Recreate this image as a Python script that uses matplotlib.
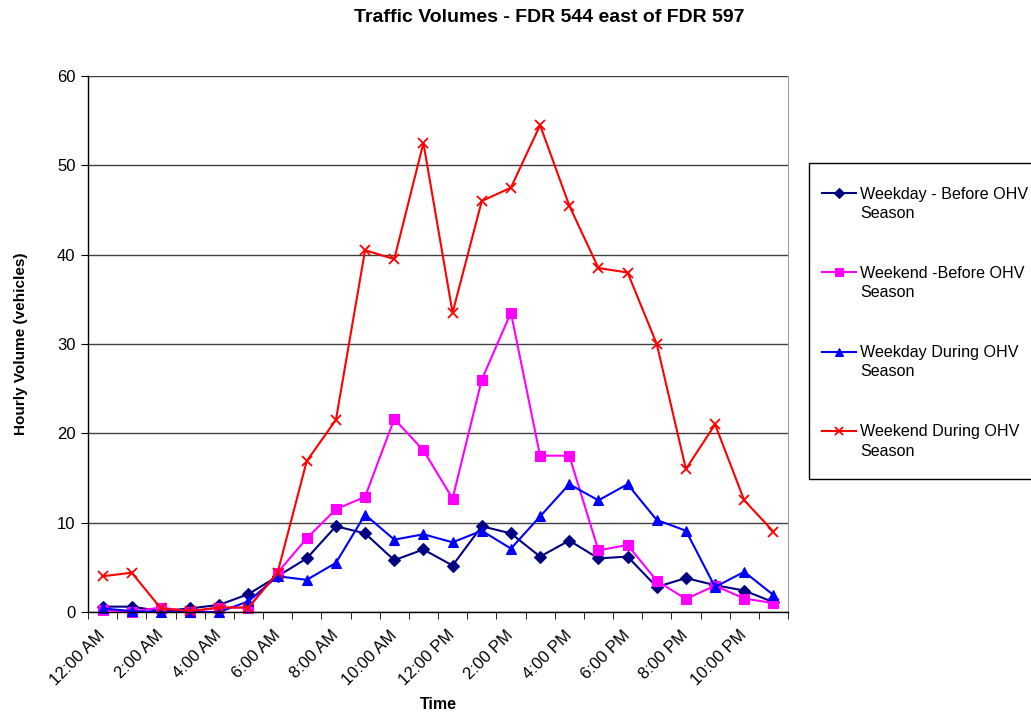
import matplotlib
matplotlib.use("Agg")
import matplotlib.pyplot as plt
from matplotlib.ticker import FixedLocator
from matplotlib.lines import Line2D
from matplotlib.patches import Rectangle
from matplotlib.transforms import ScaledTranslation

plt.rcParams['font.family'] = ['Liberation Sans', 'DejaVu Sans']

hours = list(range(24))
tick_labels = ["12:00 AM", "2:00 AM", "4:00 AM", "6:00 AM", "8:00 AM", "10:00 AM",
               "12:00 PM", "2:00 PM", "4:00 PM", "6:00 PM", "8:00 PM", "10:00 PM"]

weekday_before = [0.6, 0.6, 0.1, 0.4, 0.8, 2.0, 4.0, 6.0, 9.6, 8.8, 5.8, 7.0,
                  5.2, 9.6, 8.8, 6.2, 8.0, 6.0, 6.2, 2.8, 3.8, 3.0, 2.4, 1.1]
weekend_before = [0.2, 0.05, 0.5, 0.05, 0.5, 0.5, 4.4, 8.25, 11.5, 12.9, 21.6, 18.1,
                  12.7, 26.0, 33.5, 17.5, 17.5, 6.9, 7.5, 3.5, 1.45, 2.95, 1.5, 1.0]
weekday_during = [0.4, 0.1, 0.0, 0.0, 0.0, 1.2, 4.0, 3.6, 5.5, 10.9, 8.1, 8.7,
                  7.8, 9.1, 7.1, 10.7, 14.3, 12.5, 14.3, 10.3, 9.1, 2.8, 4.5, 1.9]
weekend_during = [4.0, 4.4, 0.4, 0.1, 0.5, 0.5, 4.4, 16.9, 21.5, 40.5, 39.5, 52.5,
                  33.5, 46.0, 47.5, 54.5, 45.5, 38.5, 38.0, 30.0, 16.0, 21.0, 12.5, 9.0]

series_names = ["Weekday - Before OHV\nSeason", "Weekend -Before OHV\nSeason",
                "Weekday During OHV\nSeason", "Weekend During OHV\nSeason"]
series_values = [weekday_before, weekend_before, weekday_during, weekend_during]
colors = ['#000080', '#FF00FF', '#0000FF', '#FF0000']
markers = ['D', 's', '^', 'x']
msizes = [6, 7, 7.5, 7.5]

W, H = 1031, 719
fig = plt.figure(figsize=(W / 100, H / 100), dpi=100)
ax = fig.add_axes([88 / W, 1 - 612 / H, 700 / W, 536 / H])

for name, vals, color, marker, ms in zip(series_names, series_values, colors, markers, msizes):
    ax.plot(hours, vals, color=color, marker=marker, markersize=ms, linewidth=1.5,
            markeredgewidth=1.3 if marker == 'x' else 0.8, clip_on=False)

ax.set_xlim(-0.5, 23.5)
ax.set_ylim(0, 60)
ax.set_yticks(range(0, 61, 10))
ax.yaxis.grid(True, color='#404040', linewidth=1)
ax.set_axisbelow(True)

ax.set_xticks(hours[::2])
ax.set_xticklabels(tick_labels, rotation=45, ha='right', va='center',
                   rotation_mode='anchor', fontsize=12)
off = ScaledTranslation(-9 / 100, 0, fig.dpi_scale_trans)
for lab in ax.get_xticklabels():
    lab.set_transform(lab.get_transform() + off)
ax.xaxis.set_minor_locator(FixedLocator([h - 0.5 for h in range(25)]))
ax.tick_params(axis='x', which='major', length=0, pad=15)
ax.tick_params(axis='x', which='minor', length=5, direction='out', color='black')
ax.tick_params(axis='y', length=5, direction='out', labelsize=12, pad=4)

for s in ['left', 'bottom']:
    ax.spines[s].set_color('black')
    ax.spines[s].set_linewidth(1)
ax.spines['top'].set_visible(False)
ax.spines['right'].set_color('#a0a0a0')

ax.set_xlabel("Time", fontsize=11.5, fontweight='bold')
ax.xaxis.set_label_coords(0.5, (612 - 697) / 536)
ax.set_ylabel("Hourly Volume (vehicles)", fontsize=11, fontweight='bold')
ax.yaxis.set_label_coords((28 - 88) / 700, 0.5)

fig.text(549 / W, 1 - 17 / H, "Traffic Volumes - FDR 544 east of FDR 597", ha='center',
         va='center', fontsize=14, fontweight='bold')

# legend box (extends past the right edge, as in the original)
fig.add_artist(Rectangle((809 / W, 1 - 479 / H), 240 / W, 316 / H, transform=fig.transFigure,
                         facecolor='white', edgecolor='black', linewidth=1))
for i, (name, color, marker, ms) in enumerate(zip(series_names, colors, markers, msizes)):
    yl = 193 + 79.3 * i
    fig.add_artist(Line2D([822 / W, 856 / W], [1 - yl / H, 1 - yl / H], transform=fig.transFigure,
                          color=color, linewidth=1.5))
    fig.add_artist(Line2D([839 / W], [1 - yl / H], transform=fig.transFigure, color=color,
                          marker=marker, markersize=ms * 0.85,
                          markeredgewidth=1.3 if marker == 'x' else 0.8, linestyle='none'))
    fig.text(860 / W, 1 - (yl - 6.5) / H, name, ha='left', va='top', fontsize=11.6,
             linespacing=1.35)

fig.savefig("out.png", dpi=100)
